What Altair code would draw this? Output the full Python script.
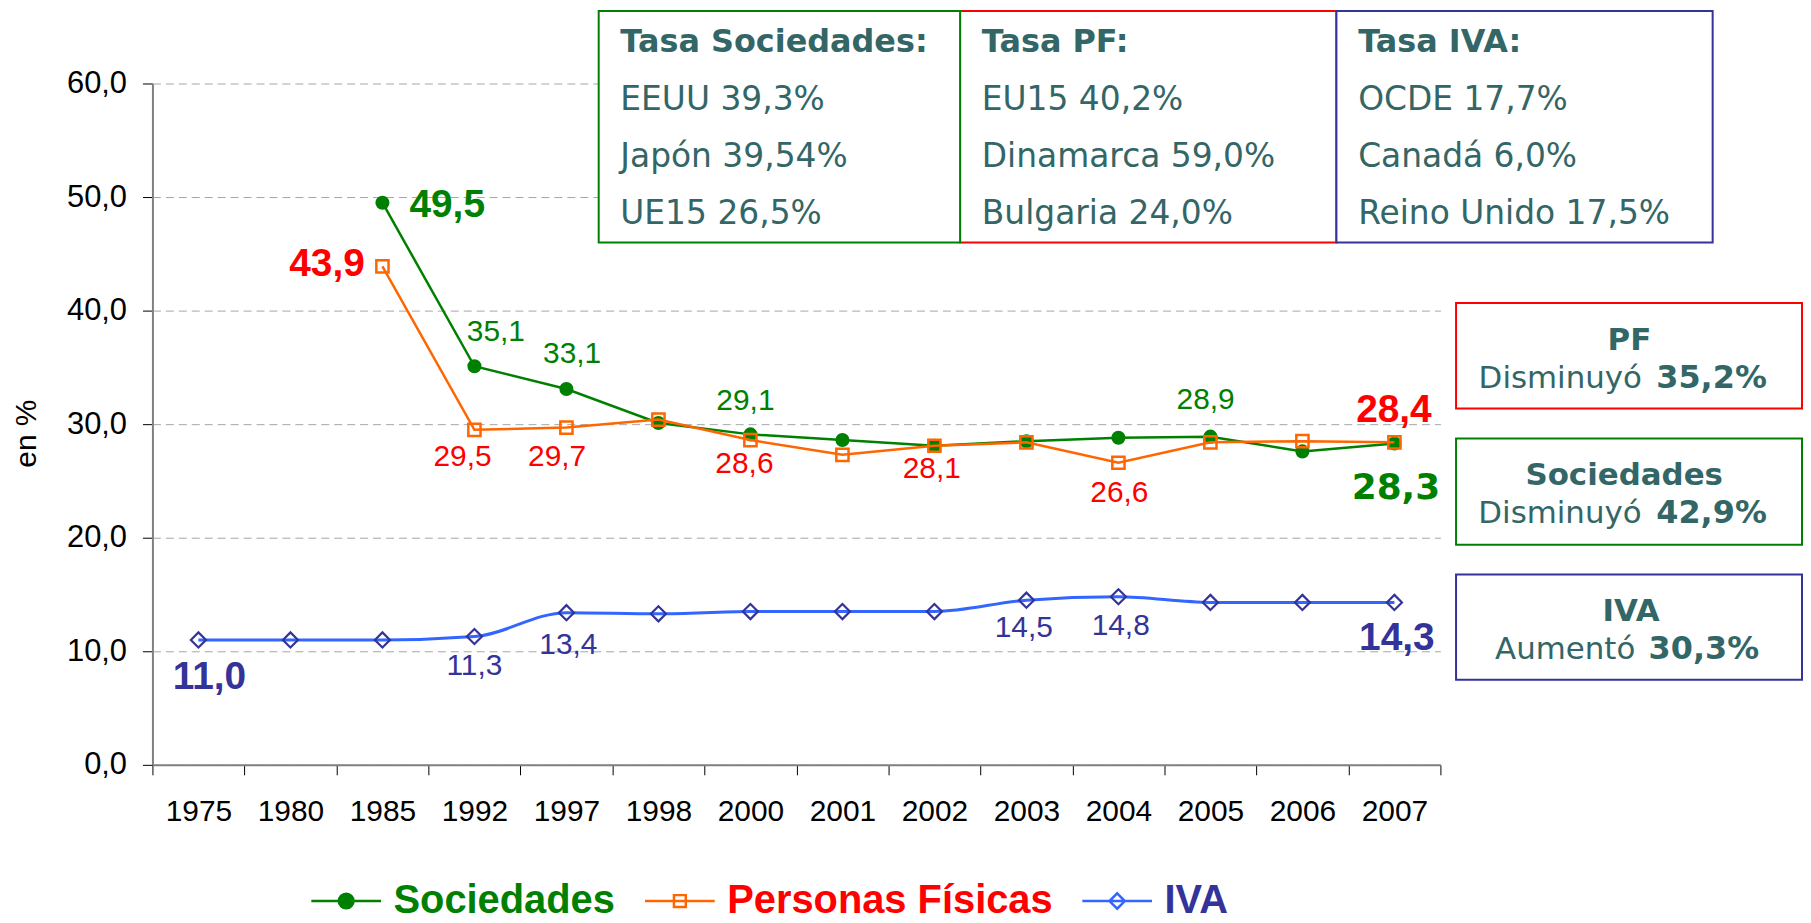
import altair as alt
import pandas as pd

# ---------------- data ----------------
years = ["1975", "1980", "1985", "1992", "1997", "1998", "2000",
         "2001", "2002", "2003", "2004", "2005", "2006", "2007"]
sociedades = [None, None, 49.5, 35.1, 33.1, 30.1, 29.1, 28.6, 28.1, 28.5, 28.8, 28.9, 27.6, 28.3]
personas_fisicas = [None, None, 43.9, 29.5, 29.7, 30.4, 28.6, 27.3, 28.1, 28.4, 26.6, 28.4, 28.5, 28.4]
iva = [11.0, 11.0, 11.0, 11.3, 13.4, 13.3, 13.5, 13.5, 13.5, 14.5, 14.8, 14.3, 14.3, 14.3]
series_names = ["Sociedades", "Personas Físicas", "IVA"]
y_ticks = [0, 10, 20, 30, 40, 50, 60]

tasa_soc_title = "Tasa Sociedades:"
tasa_soc_rows = ["EEUU 39,3%", "Japón 39,54%", "UE15 26,5%"]
tasa_pf_title = "Tasa PF:"
tasa_pf_rows = ["EU15 40,2%", "Dinamarca 59,0%", "Bulgaria 24,0%"]
tasa_iva_title = "Tasa IVA:"
tasa_iva_rows = ["OCDE 17,7%", "Canadá 6,0%", "Reino Unido 17,5%"]

cambio_titles = ["PF", "Sociedades", "IVA"]
cambio_verbs = ["Disminuyó", "Disminuyó", "Aumentó"]
cambio_pcts = ["35,2%", "42,9%", "30,3%"]

rows = []
for i, yr in enumerate(years):
    for name, vals in zip(series_names, [sociedades, personas_fisicas, iva]):
        if vals[i] is not None:
            rows.append({"year": yr, "series": name, "value": vals[i]})
df = pd.DataFrame(rows)

# ---------------- styles ----------------
GREEN = "#008000"
ORANGE = "#FF6600"
RED = "#FF0000"
BLUE_LINE = "#3366FF"
NAVY = "#333399"
TEAL = "#336666"
ARIAL = "Liberation Sans"
VERD = "DejaVu Sans"

x_axis = alt.Axis(tickBand="extent", tickSize=10, tickColor="black", tickWidth=1,
                  domainColor="#808080", domainWidth=2, labelAngle=0, labelFont=ARIAL,
                  labelFontSize=30, labelColor="black", labelPadding=22, title=None, grid=False)
y_axis = alt.Axis(values=y_ticks, labelExpr="replace(format(datum.value, '.1f'), '.', ',')",
                  title="en %", titleFont=ARIAL, titleFontSize=30, titleFontWeight="normal",
                  titleColor="black", titleAngle=-90, titleX=-126, titleY=351,
                  titleBaseline="middle", titleAlign="center",
                  grid=True, gridDash=[8, 5], gridColor="#A6A6A6", gridWidth=1,
                  tickSize=10, tickColor="black", tickWidth=1,
                  domainColor="#808080", domainWidth=2, labelFont=ARIAL, labelFontSize=31,
                  labelColor="black", labelPadding=16)

X = alt.X("year:N", sort=years, bandPosition=0.5,
          scale=alt.Scale(type="band", domain=years, paddingInner=0, paddingOuter=0),
          axis=x_axis)
Y = alt.Y("value:Q", scale=alt.Scale(domain=[0, 60], nice=False), axis=y_axis)

base = alt.Chart(df)


def series(name):
    return base.transform_filter(alt.datum.series == name)


layers = []
# Sociedades
layers.append(series("Sociedades").mark_line(color=GREEN, strokeWidth=2.5).encode(x=X, y=Y))
layers.append(series("Sociedades").mark_point(shape="circle", filled=True, size=200,
                                              color=GREEN, opacity=1).encode(x=X, y=Y))
# Personas Fisicas
layers.append(series("Personas Físicas").mark_line(color=ORANGE, strokeWidth=2.5).encode(x=X, y=Y))
layers.append(series("Personas Físicas").mark_point(shape="square", filled=False, size=150,
                                                    color=ORANGE, strokeWidth=2.5, opacity=1).encode(x=X, y=Y))
# IVA
layers.append(series("IVA").mark_line(color=BLUE_LINE, strokeWidth=3, interpolate="monotone").encode(x=X, y=Y))
layers.append(series("IVA").mark_point(shape="diamond", filled=False, size=230,
                                       color=NAVY, strokeWidth=2.2, opacity=1).encode(x=X, y=Y))

# ---------------- value labels ----------------
small = {"font": ARIAL, "size": 30, "weight": "normal", "cap": 0.358}
big = {"font": ARIAL, "size": 39, "weight": "bold", "cap": 0.358}
bigv = {"font": VERD, "size": 36, "weight": "bold", "cap": 0.365}

label_specs = [
    ("Sociedades", "1985", 65, 0, big, GREEN),
    ("Sociedades", "1992", 21.5, -36.4, small, GREEN),
    ("Sociedades", "1997", 5.7, -36.7, small, GREEN),
    ("Sociedades", "2000", -5, -35.3, small, GREEN),
    ("Sociedades", "2005", -4.8, -39, small, GREEN),
    ("Sociedades", "2007", 1.5, 43.1, bigv, GREEN),
    ("Personas Físicas", "1985", -55.6, -4.5, big, RED),
    ("Personas Físicas", "1992", -12, 25.3, small, RED),
    ("Personas Físicas", "1997", -9.3, 27.6, small, RED),
    ("Personas Físicas", "2000", -6, 22.5, small, RED),
    ("Personas Físicas", "2002", -2.7, 21.8, small, RED),
    ("Personas Físicas", "2004", 1, 28.2, small, RED),
    ("Personas Físicas", "2007", -0.5, -34.7, big, RED),
    ("IVA", "1975", 11, 35.4, big, NAVY),
    ("IVA", "1992", 0, 28.3, small, NAVY),
    ("IVA", "1997", 2, 30.3, small, NAVY),
    ("IVA", "2003", -2.6, 26.3, small, NAVY),
    ("IVA", "2004", 2.3, 27.2, small, NAVY),
    ("IVA", "2007", 2.5, 33.7, big, NAVY),
]
for s, yr, dx, dy, st, col in label_specs:
    layers.append(
        base.transform_filter((alt.datum.series == s) & (alt.datum.year == yr))
        .transform_calculate(label="replace(format(datum.value, '.1f'), '.', ',')")
        .mark_text(align="center", baseline="alphabetic", dx=dx, dy=dy + st["cap"] * st["size"],
                   font=st["font"], fontSize=st["size"], fontWeight=st["weight"], color=col)
        .encode(x=X, y=Y, text="label:N")
    )

# ---------------- annotation boxes ----------------
one = alt.Data(values=[{}])


def box(x1, x2, y1, y2, col):
    return alt.Chart(one).mark_rect(fill="white", stroke=col, strokeWidth=2).encode(
        x=alt.value(x1), x2=alt.value(x2), y=alt.value(y1), y2=alt.value(y2))


def txt(x, y, t, size, weight="normal", align="left", color=TEAL, font=VERD, lh=None):
    kw = dict(align=align, baseline="alphabetic", font=font, fontSize=size,
              fontWeight=weight, color=color)
    if lh is not None:
        kw["lineHeight"] = lh
    return alt.Chart(one).mark_text(**kw).encode(x=alt.value(x), y=alt.value(y), text=alt.value(t))


# top boxes
layers.append(box(810.8, 1188.6, -72.7, 159.7, RED))
layers.append(box(448, 810.8, -72.7, 159.7, GREEN))
layers.append(box(1188.6, 1566.3, -72.7, 159.7, NAVY))
for x0, title, rws in [(469.7, tasa_soc_title, tasa_soc_rows),
                       (832.6, tasa_pf_title, tasa_pf_rows),
                       (1210.4, tasa_iva_title, tasa_iva_rows)]:
    layers.append(txt(x0, -31.5, title, 32, "bold"))
    layers.append(txt(x0, 26.5, rws, 33, lh=57.5))

# right boxes
right_boxes = [(220.3, 326.3, RED), (356.3, 463, GREEN), (493, 598.7, NAVY)]
title_pos = [(1482.7, 267.3), (1477.5, 403), (1484.5, 539.7)]
line_pos = [(1495.3, 1509.7, 305.7), (1495, 1509.7, 441.3), (1488.7, 1502, 577.3)]
for i in range(3):
    y1, y2, col = right_boxes[i]
    layers.append(box(1308.7, 1656, y1, y2, col))
    layers.append(txt(title_pos[i][0], title_pos[i][1], cambio_titles[i], 31, "bold", align="center"))
    layers.append(txt(line_pos[i][0], line_pos[i][2], cambio_verbs[i], 31, align="right"))
    layers.append(txt(line_pos[i][1], line_pos[i][2], cambio_pcts[i], 32, "bold"))

# ---------------- legend (empty layer that only feeds the legend) ----------------
legend_paths = [
    "M-1,0H-0.21M0.21,0H1M-0.21,0A0.21,0.21 0 1,0 0.21,0A0.21,0.21 0 1,0 -0.21,0Z",
    "M-1,0H1M-0.17,-0.17H0.17V0.17H-0.17Z",
    "M-1,0H1M0,-0.22L0.22,0L0,0.22L-0.22,0Z",
]
leg = alt.Legend(title=None, orient="none", legendX=158, legendY=784, direction="horizontal",
                 symbolSize=4900, symbolStrokeWidth=2.5, labelFont=ARIAL, labelFontSize=40,
                 labelFontWeight="bold", labelOffset=11, labelLimit=1000, columnPadding=24,
                 labelColor=alt.ExprRef(
                     "datum.value == 'Sociedades' ? '#008000' : (datum.value == 'IVA' ? '#333399' : '#FF0000')"))
layers.append(
    base.transform_filter("false").mark_point(filled=True, opacity=1).encode(
        x=X, y=Y,
        shape=alt.Shape("series:N", scale=alt.Scale(domain=series_names, range=legend_paths), legend=leg),
        stroke=alt.Stroke("series:N", scale=alt.Scale(domain=series_names, range=[GREEN, ORANGE, BLUE_LINE]), legend=leg),
        fill=alt.Fill("series:N", scale=alt.Scale(domain=series_names, range=[GREEN, "transparent", "transparent"]), legend=leg),
    )
)

chart = alt.layer(*layers).properties(
    width=1293, height=684,
    autosize=alt.AutoSizeParams(type="none"),
    padding={"left": 145, "top": 74, "right": 364, "bottom": 157},
).configure_view(stroke=None)

chart.save("out.html", embed_options={"renderer": "svg", "actions": False})
